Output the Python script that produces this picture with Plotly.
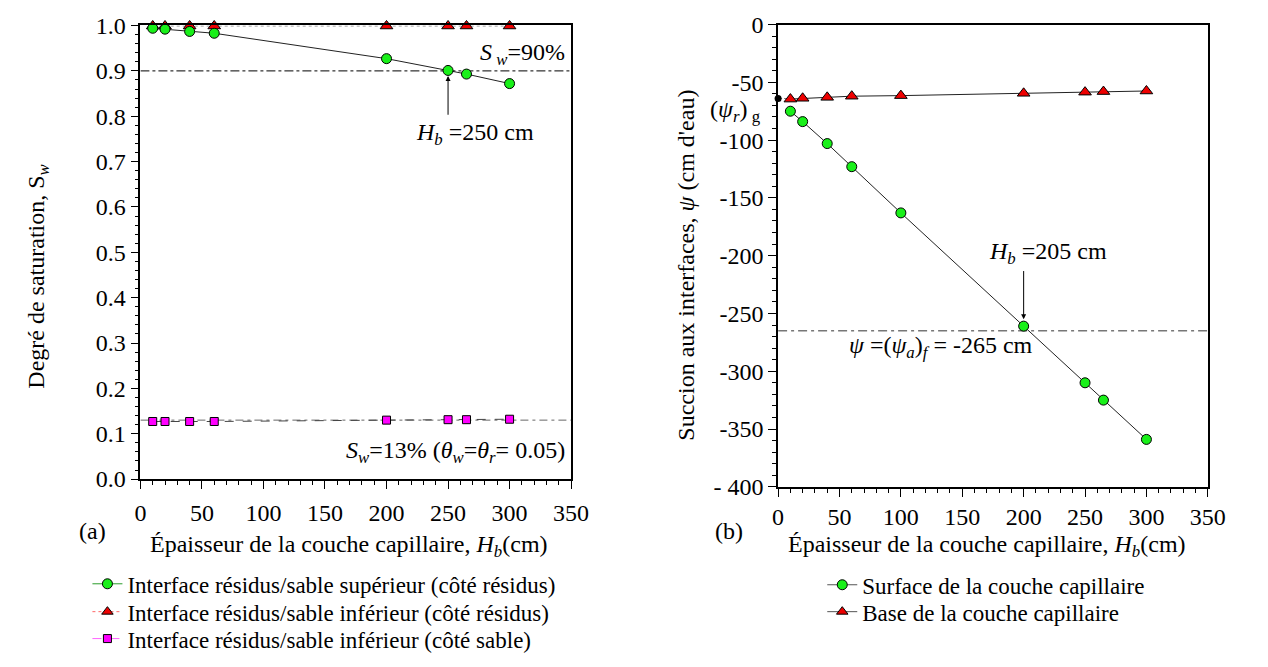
import plotly.graph_objects as go

W, H = 1268, 667
FONT = "Liberation Serif, Times New Roman, DejaVu Serif, serif"

# ---------------- data: panel (a) ----------------
hb_a = [10, 20, 40, 60, 200, 250, 265, 300]
sw_sup_residus = [0.994, 0.992, 0.987, 0.983, 0.927, 0.901, 0.893, 0.872]
sw_inf_residus = [0.999, 0.999, 0.999, 0.999, 0.999, 0.999, 0.999, 0.999]
sw_inf_sable = [0.127, 0.127, 0.127, 0.127, 0.130, 0.131, 0.131, 0.132]
sw_90 = 0.90
sw_13 = 0.13
y_ticks_a = [0.0, 0.1, 0.2, 0.3, 0.4, 0.5, 0.6, 0.7, 0.8, 0.9, 1.0]
y_ticktext_a = ["0.0", "0.1", "0.2", "0.3", "0.4", "0.5", "0.6", "0.7", "0.8", "0.9", "1.0"]

# ---------------- data: panel (b) ----------------
hb_b = [10, 20, 40, 60, 100, 200, 250, 265, 300]
psi_surface = [-75, -84, -103, -123, -163, -261, -310, -325, -359]
psi_base = [-64.5, -63.8, -63.0, -62.0, -61.5, -59.5, -58.5, -58.0, -57.5]
psi_r_g = -64
psi_a_f = -265
x_range = [0, 350]
x_ticks = [0, 50, 100, 150, 200, 250, 300, 350]

y_ticks_b = [0, -50, -100, -150, -200, -250, -300, -350, -400]
y_ticktext_b = ["0", "-50", "-100", "-150", "-200", "-250", "-300", "-350", "- 400"]

GREEN = "#19f019"
RED = "#ee0000"
MAG = "#ff00ff"


def px(x):
    return x / W


def py(y):
    return 1 - y / H


fig = go.Figure()

# ---- panel (a) plotted series ----
fig.add_trace(go.Scatter(x=x_range, y=[sw_90, sw_90], mode="lines", xaxis="x", yaxis="y",
                         line=dict(color="black", width=1, dash="dashdot"), showlegend=False, hoverinfo="skip"))
fig.add_trace(go.Scatter(x=x_range, y=[sw_13, sw_13], mode="lines", xaxis="x", yaxis="y",
                         line=dict(color="#666666", width=1, dash="8px,4px,3px,4px"), showlegend=False, hoverinfo="skip"))
fig.add_trace(go.Scatter(x=hb_a, y=sw_inf_residus, mode="lines+markers", xaxis="x", yaxis="y",
                         line=dict(color="#888888", width=1, dash="dot"),
                         marker=dict(symbol="triangle-up", size=11, color=RED, line=dict(color="black", width=1)),
                         showlegend=False, cliponaxis=False))
fig.add_trace(go.Scatter(x=hb_a, y=sw_sup_residus, mode="lines+markers", xaxis="x", yaxis="y",
                         line=dict(color="#222222", width=1),
                         marker=dict(symbol="circle", size=10, color=GREEN, line=dict(color="black", width=1)),
                         showlegend=False, cliponaxis=False))
fig.add_trace(go.Scatter(x=hb_a, y=sw_inf_sable, mode="lines+markers", xaxis="x", yaxis="y",
                         line=dict(color="#444444", width=1, dash="dash"),
                         marker=dict(symbol="square", size=8, color=MAG, line=dict(color="black", width=1)),
                         showlegend=False, cliponaxis=False))

# ---- panel (a) legend entries (one legend per row for exact row positions) ----
leg_a = [
    ("Interface résidus/sable supérieur (côté résidus)", "circle", GREEN, 10, "solid", "#2a9d2a", "legend"),
    ("Interface résidus/sable inférieur (côté résidus)", "triangle-up", RED, 10, "dot", "#ff6666", "legend3"),
    ("Interface résidus/sable inférieur (côté sable)", "square", MAG, 8, "dash", "#ff66ff", "legend4"),
]
for name, sym, col, sz, dash, lcol, lg in leg_a:
    fig.add_trace(go.Scatter(x=[None], y=[None], mode="lines+markers", name=name, xaxis="x", yaxis="y",
                             line=dict(color=lcol, width=1, dash=dash),
                             marker=dict(symbol=sym, size=sz, color=col, line=dict(color="black", width=1)),
                             legend=lg))

# ---- panel (b) plotted series ----
fig.add_trace(go.Scatter(x=x_range, y=[psi_a_f, psi_a_f], mode="lines", xaxis="x2", yaxis="y2",
                         line=dict(color="#777777", width=1.3, dash="9px,4px,3px,4px"), showlegend=False, hoverinfo="skip"))
fig.add_trace(go.Scatter(x=[x_range[0], hb_b[0]], y=[psi_r_g, psi_r_g], mode="lines", xaxis="x2", yaxis="y2",
                         line=dict(color="#777777", width=1, dash="4px,2px,2px,2px"), showlegend=False, hoverinfo="skip"))
fig.add_trace(go.Scatter(x=[x_range[0]], y=[psi_r_g], mode="markers", xaxis="x2", yaxis="y2",
                         marker=dict(symbol="circle", size=7, color="black"), showlegend=False, cliponaxis=False))
fig.add_trace(go.Scatter(x=hb_b, y=psi_surface, mode="lines+markers", xaxis="x2", yaxis="y2",
                         line=dict(color="#222222", width=1),
                         marker=dict(symbol="circle", size=10, color=GREEN, line=dict(color="black", width=1)),
                         showlegend=False, cliponaxis=False))
fig.add_trace(go.Scatter(x=hb_b, y=psi_base, mode="lines+markers", xaxis="x2", yaxis="y2",
                         line=dict(color="#222222", width=1),
                         marker=dict(symbol="triangle-up", size=11, color=RED, line=dict(color="black", width=1)),
                         showlegend=False, cliponaxis=False))

leg_b = [
    ("Surface de la couche capillaire", "circle", GREEN, 10, "legend2"),
    ("Base de la couche capillaire", "triangle-up", RED, 10, "legend5"),
]
for name, sym, col, sz, lg in leg_b:
    fig.add_trace(go.Scatter(x=[None], y=[None], mode="lines+markers", name=name, xaxis="x2", yaxis="y2",
                             line=dict(color="#555555", width=1),
                             marker=dict(symbol=sym, size=sz, color=col, line=dict(color="black", width=1)),
                             legend=lg))

axis_common = dict(showline=True, linecolor="black", linewidth=1.5, mirror=True, showgrid=False, zeroline=False,
                   ticks="outside", ticklen=8, tickwidth=1, tickcolor="black",
                   tickfont=dict(family=FONT, size=24, color="black"))


def leg(xp, yp):
    return dict(x=px(xp), y=py(yp), xanchor="left", yanchor="middle", bgcolor="rgba(0,0,0,0)",
                font=dict(family=FONT, size=23, color="black"), tracegroupgap=0, itemwidth=30)


fig.update_layout(
    width=W, height=H, margin=dict(l=0, r=0, t=0, b=0),
    paper_bgcolor="white", plot_bgcolor="white",
    font=dict(family=FONT, size=24, color="black"),
    xaxis=dict(domain=[px(137), px(576)], range=x_range, tickvals=x_ticks, anchor="y",
               minor=dict(ticks="outside", ticklen=4, dtick=10, tickcolor="black"), ticklabelstandoff=3,
               **axis_common),
    yaxis=dict(domain=[py(485), py(13)], range=[0, 1.0001], tickvals=y_ticks_a, ticktext=y_ticktext_a, anchor="x",
               minor=dict(ticks="outside", ticklen=4, dtick=0.02, tickcolor="black"), **axis_common),
    xaxis2=dict(domain=[px(787), px(1225)], range=x_range, tickvals=x_ticks, anchor="y2",
                minor=dict(ticks="outside", ticklen=4, dtick=10, tickcolor="black"), ticklabelstandoff=0,
                **axis_common),
    yaxis2=dict(domain=[py(493), py(12)], range=[-400, 0.01], tickvals=y_ticks_b, ticktext=y_ticktext_b, anchor="x2",
                minor=dict(ticks="outside", ticklen=4, dtick=10, tickcolor="black"), **axis_common),
    legend=leg(83, 594),
    legend3=leg(83, 623),
    legend4=leg(83, 651),
    legend2=leg(832, 595),
    legend5=leg(832, 623),
    showlegend=True,
)

ann = []
f24 = dict(family=FONT, size=24, color="black")
# axis titles
ann.append(dict(text="Degré de saturation, S<sub><i>w</i></sub>", xref="paper", yref="paper", x=px(33), y=py(274),
                textangle=-90, showarrow=False, font=f24, xanchor="center", yanchor="middle"))
ann.append(dict(text="Succion aux interfaces, <i>ψ</i> (cm d'eau)", xref="paper", yref="paper", x=px(693), y=py(262),
                textangle=-90, showarrow=False, font=f24, xanchor="center", yanchor="middle"))
ann.append(dict(text="Épaisseur de la couche capillaire, <i>H</i><sub><i>b</i></sub>(cm)", xref="paper", yref="paper",
                x=px(145), y=py(555), showarrow=False, font=f24, xanchor="left", yanchor="middle"))
ann.append(dict(text="Épaisseur de la couche capillaire, <i>H</i><sub><i>b</i></sub>(cm)", xref="paper", yref="paper",
                x=px(795), y=py(555), showarrow=False, font=f24, xanchor="left", yanchor="middle"))
ann.append(dict(text="(a)", xref="paper", yref="paper", x=px(72), y=py(555), showarrow=False, font=f24))
ann.append(dict(text="(b)", xref="paper", yref="paper", x=px(737), y=py(555), showarrow=False, font=f24))

# panel (a) annotations
ann.append(dict(text="<i>S</i><sub> <i>w</i></sub>=90%", xref="x", yref="y", x=347, y=sw_90, xanchor="right",
                yanchor="bottom", showarrow=False, font=f24))
ann.append(dict(text="<i>H</i><sub><i>b</i></sub> =250 cm", xref="x", yref="y", x=222, y=0.76, xanchor="left",
                yanchor="middle", showarrow=False, font=f24))
ann.append(dict(text="", xref="x", yref="y", x=250, y=0.889, axref="x", ayref="y", ax=250, ay=0.80,
                showarrow=True, arrowhead=2, arrowsize=1, arrowwidth=1, arrowcolor="black"))
ann.append(dict(text="<i>S</i><sub><i>w</i></sub>=13% (<i>θ</i><sub><i>w</i></sub>=<i>θ</i><sub><i>r</i></sub>= 0.05)",
                xref="x", yref="y", x=347, y=0.06, xanchor="right", yanchor="middle", showarrow=False, font=f24))

# panel (b) annotations
ann.append(dict(text="(<i>ψ</i><sub><i>r</i></sub>)<sub> g</sub>", xref="paper", yref="y2", x=px(772), y=-75,
                xanchor="right", yanchor="middle", showarrow=False, font=f24))
ann.append(dict(text="<i>H</i><sub><i>b</i></sub> =205 cm", xref="x2", yref="y2", x=170, y=-198, xanchor="left",
                yanchor="middle", showarrow=False, font=f24))
ann.append(dict(text="", xref="x2", yref="y2", x=200, y=-255, axref="x2", ayref="y2", ax=200, ay=-212,
                showarrow=True, arrowhead=2, arrowsize=1, arrowwidth=1, arrowcolor="black"))
ann.append(dict(text="<i>ψ</i> =(<i>ψ</i><sub><i>a</i></sub>)<sub><i>f</i></sub> = -265 cm", xref="x2", yref="y2",
                x=56, y=-279, xanchor="left", yanchor="middle", showarrow=False, font=f24))

fig.update_layout(annotations=ann)
fig.write_html("out.html")
